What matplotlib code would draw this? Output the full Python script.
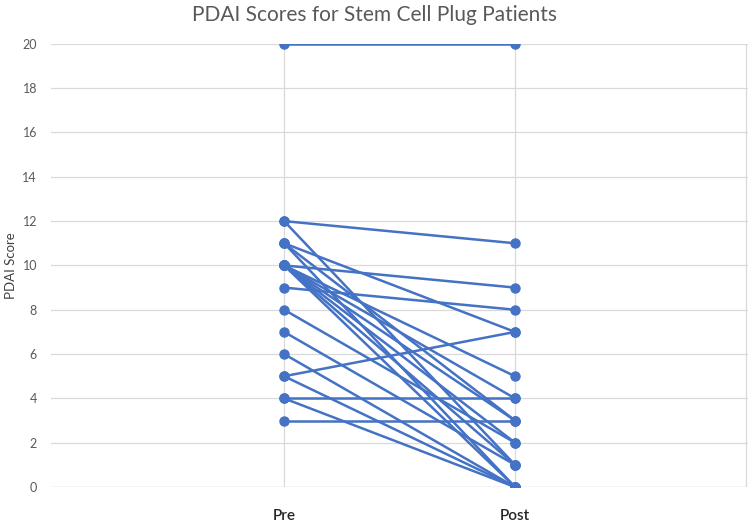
import matplotlib
matplotlib.use('Agg')
import matplotlib.pyplot as plt

# PDAI score per patient, before and after the stem cell plug
categories = ['Pre', 'Post']
pre_scores = [20, 12, 12, 11, 11, 11, 10, 10, 10, 10, 10, 10, 10, 9, 8, 7, 6, 5, 5, 4, 4, 3]
post_scores = [20, 11, 1, 7, 3, 0, 9, 5, 4, 3, 2, 1, 0, 8, 2, 1, 0, 7, 0, 4, 0, 3]
y_ticks = list(range(0, 21, 2))

plt.rcParams['font.family'] = ['Lato', 'DejaVu Sans']

fig = plt.figure(figsize=(7.49, 5.22), dpi=100)
ax = fig.add_axes([0.068, 0.067, 0.931, 0.849])

blue = '#4472C4'
for a, b in zip(pre_scores, post_scores):
    ax.plot([0, 1], [a, b], color=blue, lw=1.8, marker='o', ms=6.5,
            solid_capstyle='round', zorder=3)

ax.set_xlim(-1.01, 2.01)
ax.set_ylim(0, 20)
ax.set_yticks(y_ticks)
ax.set_xticks([0, 1])
ax.set_xticklabels(categories, fontsize=11, color='#262626', fontweight='semibold')
ax.tick_params(axis='y', labelsize=9, labelcolor='#595959', length=0, pad=10)
ax.tick_params(axis='x', length=0, pad=16)

ax.grid(True, color='#D9D9D9', lw=0.9, zorder=0)
for s in ax.spines.values():
    s.set_visible(False)
ax.axhline(0, color='#D9D9D9', lw=0.9, zorder=0)
ax.axvline(2.0, color='#D9D9D9', lw=0.9, zorder=0)

ax.set_ylabel('PDAI Score', fontsize=9.5, color='#404040', labelpad=4)
fig.text(0.5, 0.972, 'PDAI Scores for Stem Cell Plug Patients', ha='center',
         va='center', fontsize=15, color='#595959')

fig.savefig('out.png', dpi=100)
